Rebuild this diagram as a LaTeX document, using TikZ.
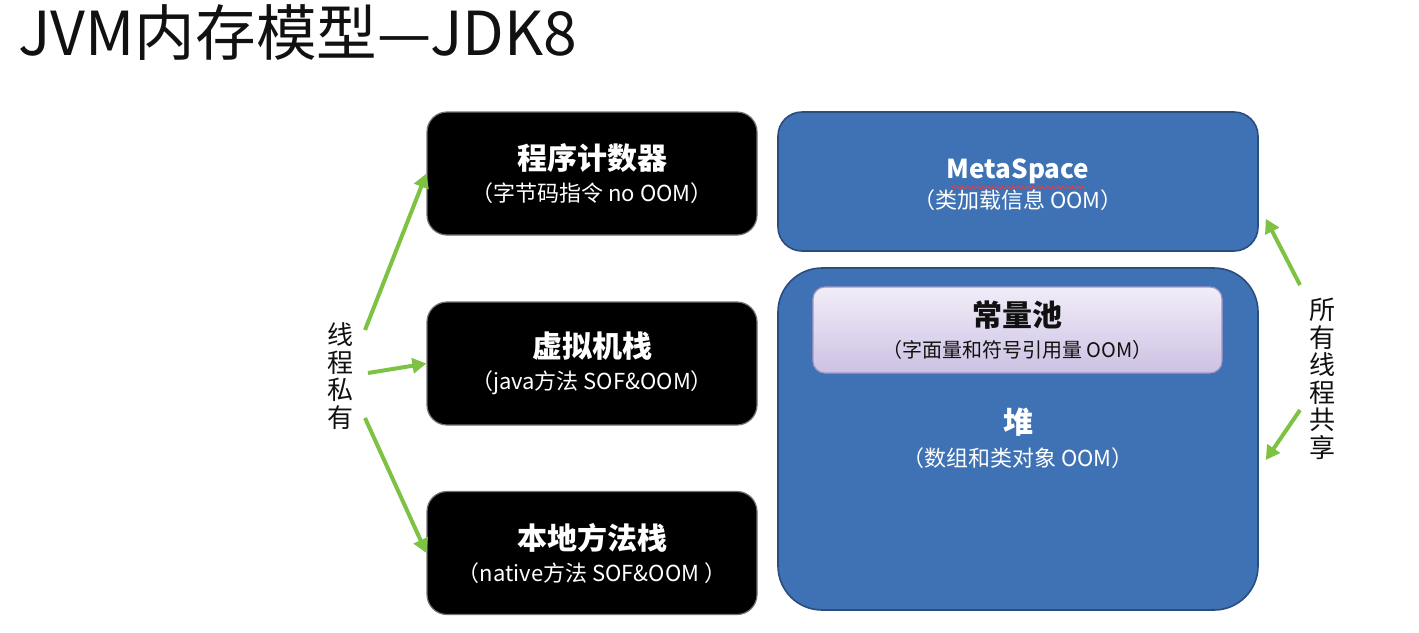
\documentclass[tikz,border=0pt]{standalone}
\usepackage{fontspec}
\setmainfont{Noto Sans CJK SC}
\usetikzlibrary{arrows.meta,decorations.pathmorphing}
\usepackage{xcolor}
\definecolor{jvmInk}{HTML}{111111}
\definecolor{jvmBlue}{HTML}{3F72B4}
\definecolor{jvmEdge}{HTML}{2A4D7E}
\definecolor{poolTop}{HTML}{F1EDF8}
\definecolor{poolBot}{HTML}{CDC1E3}
\definecolor{poolEdge}{HTML}{A497C4}
\definecolor{jvmGreen}{HTML}{7DC242}
\newcommand\hdfont{\bfseries\fontsize{15}{16}\selectfont}
\tikzset{
  privbox/.style  = {fill=black, draw=black!55, line width=0.6pt, rounded corners=10pt,
                     minimum width=165pt, minimum height=61.5pt, inner sep=0,
                     align=center, text=white, font=\fontsize{11}{16}\selectfont},
  sharebox/.style = {fill=jvmBlue, draw=jvmEdge, line width=0.8pt, inner sep=0,
                     minimum width=240pt},
  sharetxt/.style = {inner sep=0, align=center, text=white,
                     font=\fontsize{11}{16.5}\selectfont},
  poolbox/.style  = {top color=poolTop, bottom color=poolBot, draw=poolEdge,
                     line width=0.6pt, rounded corners=6pt, inner sep=0,
                     minimum width=204.5pt, minimum height=43pt, align=center,
                     text=jvmInk, font=\fontsize{10}{15.5}\selectfont},
  vlbl/.style     = {align=center, inner sep=0, text=jvmInk,
                     font=\fontsize{13}{13.75}\selectfont},
  link/.style     = {line width=2pt, color=jvmGreen,
                     -{Triangle[length=7pt,width=7.5pt]}},
}

\begin{document}
\begin{tikzpicture}[x=0.5pt, y=-0.5pt]
\useasboundingbox[fill=white] (0,0) rectangle (1419,632);

% --- title ---
\node[anchor=base west, inner sep=0, text=jvmInk, font=\fontsize{30.3}{34}\selectfont]
  (title) at (18,55) {JVM内存模型—JDK8};

% --- thread-private areas ---
\node[privbox] (pc) at (592,173.5)
  {{\hdfont 程序计数器}\\（字节码指令 no OOM）};
\node[privbox] (vm) at (592,363.5)
  {{\hdfont 虚拟机栈}\\（java方法 SOF\&OOM）};
\node[privbox] (nm) at (592,553)
  {{\hdfont 本地方法栈}\\（native方法 SOF\&OOM ）};

% --- shared areas ---
\node[sharebox, rounded corners=12pt, minimum height=69.5pt] (ms) at (1018,181.5) {};
\node[sharetxt, font=\fontsize{11}{16}\selectfont] (mstxt) at (1018,185)
  {{\bfseries\fontsize{13}{16}\selectfont\raisebox{-2pt}{MetaSpace}}\\[1pt]（类加载信息 OOM）};
\draw[red!80, line width=0.5pt, decorate,
      decoration={snake, amplitude=0.5pt, segment length=2.5pt}]
  (951,187.5) -- (1085,187.5);

\node[sharebox, rounded corners=22pt, minimum height=171pt] (heap) at (1018,439) {};
\node[poolbox] (pool) at (1017.5,330)
  {{\hdfont 常量池}\\（字面量和符号引用量 OOM）};
\node[sharetxt] (heaptxt) at (1018,438) {{\hdfont 堆}\\（数组和类对象 OOM）};

% --- side labels ---
\node[vlbl] (priv) at (340,376) {线\\程\\私\\有};
\node[vlbl] (shared) at (1322,379) {所\\有\\线\\程\\共\\享};

% --- arrows ---
\coordinate (p1) at (365,330);
\coordinate (p2) at (368,373);
\coordinate (p3) at (365,418);
\draw[link] (p1) -- (pc.west);
\draw[link] (p2) -- (vm.west);
\draw[link] (p3) -- (nm.west);

\coordinate (s1) at (1300,285);
\coordinate (s2) at (1300,410);
\draw[link] (s1) -- ([shift={(7,-33)}]ms.south east);
\draw[link] (s2) -- ([shift={(7,21)}]heap.east);

\end{tikzpicture}
\end{document}
